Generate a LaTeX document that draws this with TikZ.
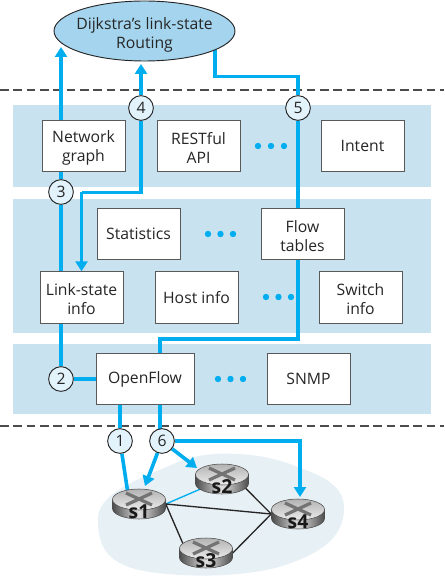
\documentclass[tikz,border=0pt]{standalone}
\usepackage{fontspec}
\setmainfont{Open Sans}
\usetikzlibrary{arrows.meta,shapes.geometric,calc}
\pgfdeclarelayer{bg}
\pgfsetlayers{bg,main}
\definecolor{lnk}{HTML}{00AEEF}
\definecolor{band}{HTML}{C9E2F0}
\definecolor{ctl}{HTML}{A5D5EE}
\definecolor{numfill}{HTML}{E3F3FB}
\definecolor{cloud}{HTML}{E7F0F5}
\newcommand{\lowerln}{\rule{0pt}{12pt}}
\tikzset{
  txt/.style={font=\fontsize{11.8}{14.25}\selectfont,text=black!85,align=center},
  box/.style={txt,draw=black!65,line width=0.7pt,fill=white,minimum width=62.25pt,minimum height=38.5pt,inner sep=0pt},
  ofbox/.style={box,minimum width=73.5pt},
  ctlell/.style={txt,ellipse,draw=black!85,line width=0.7pt,fill=ctl,minimum width=135.75pt,minimum height=45pt,inner xsep=-8pt,inner ysep=-6pt},
  num/.style={circle,draw=black!85,line width=0.7pt,fill=numfill,minimum size=18.5pt,inner sep=0pt,font=\fontsize{11.8}{13}\selectfont,text=black!85},
  wire/.style={draw=lnk,line width=2.7pt},
  tipped/.style={wire,-{Triangle[length=7.5pt,width=9pt]}},
  thinlink/.style={line width=1pt,draw=black!85},
  bandrect/.style={fill=band,draw=none},
  sep/.style={draw=black!70,line width=1.1pt,dash pattern=on 6.5pt off 3.5pt},
  routerhit/.style={ellipse,minimum width=39.75pt,minimum height=22.5pt,inner sep=0pt},
  routerlabel/.style={font=\fontsize{14.5}{15}\selectfont\bfseries,text=black!90},
}
\newcommand{\threedots}[3]{\fill[lnk] (#1,#3) circle[radius=3.2] (#2,#3) circle[radius=3.2] ({(#1+#2)/2},#3) circle[radius=3.2];}
\newcommand{\routerbody}[3]{%
  \begin{scope}[shift={(#1,#2)}]
    \path[left color=black!70,right color=black!70,middle color=black!12,draw=black!70,line width=0.4pt]
      (-26.5,-4.5) -- (-26.5,4.5) arc[start angle=180,end angle=0,x radius=26.5,y radius=10.5] -- (26.5,-4.5) -- cycle;
    \path[top color=black!30,bottom color=black!8,draw=black!70,line width=0.4pt] (0,-4.5) ellipse[x radius=26.5,y radius=10.5];
    \draw[black!55,line width=2.4pt] (-13,-11) -- (13,1) (-13,1) -- (13,-11);
    \node[routerlabel] (#3lab) at (0,8) {#3};
  \end{scope}}
\begin{document}
\begin{tikzpicture}[x=0.75pt,y=-0.75pt]
\useasboundingbox (0,0) rectangle (444,577);
\node[ctlell] (dij) at (144.5,31) {\rule{0pt}{15pt}Dijkstra’s link-state\\Routing};
\node[box] (netg) at (83.5,146) {\lowerln Network\\graph};
\node[box] (rest) at (198.5,146) {\lowerln RESTful\\API};
\node[box] (intent) at (362.5,146) {Intent};
\node[box] (stats) at (138.5,234) {Statistics};
\node[box] (flow) at (302.5,234) {\lowerln Flow\\tables};
\node[box] (lsi) at (81.5,297.5) {\lowerln Link-state\\info};
\node[box] (host) at (196.5,297.5) {Host info};
\node[box] (sw) at (360.5,297.5) {\lowerln Switch\\info};
\node[ofbox] (of) at (145,379) {OpenFlow};
\node[box] (snmp) at (308.5,379) {SNMP};
\node[num] (n3) at (61,192) {3};
\node[num] (n4) at (141,108) {4};
\node[num] (n5) at (298,108) {5};
\node[num] (n2) at (61,379) {2};
\node[num] (n1) at (120,441) {1};
\node[num] (n6) at (162,441) {6};
\node[routerhit] (s1) at (139,504) {};
\node[routerhit] (s2) at (222,479) {};
\node[routerhit] (s3) at (206,553) {};
\node[routerhit] (s4) at (298,514) {};
\threedots{258}{284}{146}
\threedots{208}{233}{234}
\threedots{266}{291}{297}
\threedots{218}{243}{379}
\routerbody{139}{504}{s1}
\routerbody{222}{479}{s2}
\routerbody{206}{553}{s3}
\routerbody{298}{514}{s4}
\begin{pgfonlayer}{bg}
\fill[cloud] (98,517) .. controls (100,490) and (150,475) .. (178,462)
  .. controls (205,450) and (260,450) .. (300,468)
  .. controls (330,478) and (345,490) .. (344,510)
  .. controls (343,535) and (325,552) .. (285,565)
  .. controls (250,577) and (190,578) .. (150,572)
  .. controls (110,566) and (97,550) .. (98,517) -- cycle;
\fill[bandrect] (13,105) rectangle (431,187);
\fill[bandrect] (13,199) rectangle (431,333);
\fill[bandrect] (13,344) rectangle (431,414);
\coordinate (sepAl) at (0,90); \coordinate (sepAr) at (444,90);
\coordinate (sepBl) at (0,426); \coordinate (sepBr) at (444,426);
\draw[sep] (sepAl) -- (sepAr);
\draw[sep] (sepBl) -- (sepBr);
\coordinate (tipA) at (61,47);
\coordinate (tipB) at (141,64);
\coordinate (tipS1) at (145,486);
\coordinate (tipS2) at (197,468);
\coordinate (tipS4) at (300,497);
\coordinate (ofR) at (160,379);
\coordinate (dijOut) at (215,40);
\draw[tipped] (n3 |- netg.north) -- (tipA);
\draw[wire] (n3) -- (n3 |- netg.south);
\draw[wire] (n3) -- (n3 |- lsi.north);
\draw[wire] (n3 |- lsi.south) -- (n2);
\draw[wire] (n2) -- (of);
\draw[tipped] (n4) -- (tipB);
\coordinate (bend4) at (81.5,192.5);
\draw[wire] (n4) -- (n4 |- bend4) -- (bend4);
\draw[tipped] (bend4) -- (lsi.north);
\draw[wire] (dijOut) -- (215,76.5) -- (298,76.5) -- (n5);
\draw[wire] (n5) -- (n5 |- flow.north);
\draw[wire] (n5 |- flow.south) -- (298,339) -- (160,339) -- (ofR);
\draw[wire] (of.south -| n1) -- (n1);
\draw[wire] (ofR) -- (ofR |- n6);
\draw[wire] (n1) -- (s1.130);
\draw[tipped] (n6) -- (tipS1);
\draw[tipped] (n6) -- (tipS2);
\draw[tipped] (n6) -- (tipS4 |- n6) -- (tipS4);
\draw[lnk,line width=1pt] (s1.east) -- (s2.205);
\draw[thinlink] (s1.east) -- (s4.west);
\draw[thinlink] (s2.-20) -- (s4.west);
\draw[thinlink] (s1.east) -- (s3.160);
\draw[thinlink] (s3.east) -- (s4.west);
\end{pgfonlayer}
\end{tikzpicture}
\end{document}
